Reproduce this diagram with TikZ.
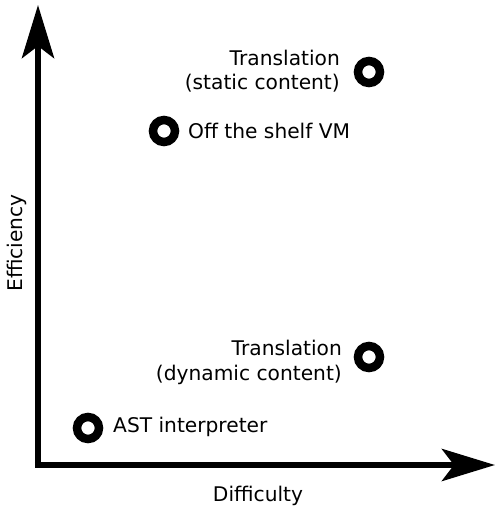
\documentclass[tikz,border=0pt]{standalone}
\usepackage{fontspec}
\setmainfont{DejaVu Sans}
\usetikzlibrary{arrows.meta}
\tikzset{
  axis/.style={line width=6.5pt, line join=miter, -{Stealth[length=53pt,width=32pt,inset=12pt]}},
  ring/.style={circle, draw, line width=8.5pt, minimum size=22pt, inner sep=0pt},
  lbl/.style={font=\fontsize{20.2}{24.5}\selectfont, inner sep=0pt},
}
\begin{document}
\begin{tikzpicture}[x=1pt,y=-1pt]
\useasboundingbox (0,0) rectangle (495,508);
\coordinate (ytip) at (38,5);
\coordinate (origin) at (38,465);
\coordinate (xtip) at (495,465);
\draw[axis] (origin) -- (ytip);
\draw[axis] ([xshift=-3.25pt]origin) -- (xtip);
\node[ring] (c1) at (369,72) {};
\node[ring] (c2) at (164,131) {};
\node[ring] (c3) at (369,357) {};
\node[ring] (c4) at (88,428) {};
\node[lbl, anchor=base east, align=right] (t1) at (340,90) {Translation\\(static content)};
\node[lbl, anchor=base west] (t2) at (188,139) {Off the shelf VM};
\node[lbl, anchor=base east, align=right] (t3) at (342,380) {Translation\\(dynamic content)};
\node[lbl, anchor=base west] (t4) at (113,432) {AST interpreter};
\node[lbl, rotate=90] (ylab) at (17,243) {Efficiency};
\node[lbl] (xlab) at (258,496) {Difficulty};
\end{tikzpicture}
\end{document}
